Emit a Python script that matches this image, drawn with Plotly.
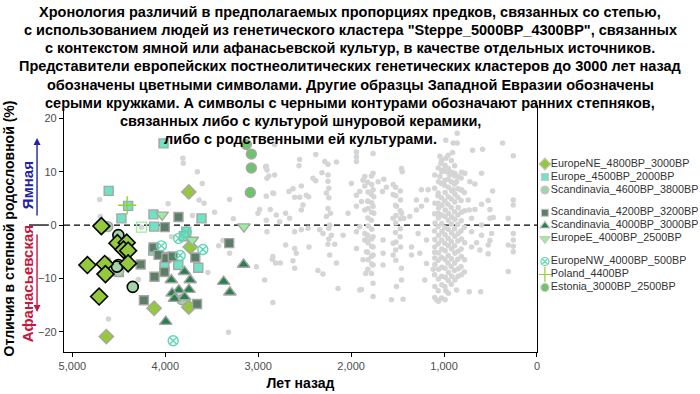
import plotly.graph_objects as go

# ---------------- tick labels ----------------
x_ticks = [5000, 4000, 3000, 2000, 1000, 0]
x_ticklabels = ["5,000", "4,000", "3,000", "2,000", "1,000", "0"]
y_ticks = [-20, -10, 0, 10, 20]
y_ticklabels = ["\u221220", "\u221210", "0", "10", "20"]

# ---------------- coloured series ----------------
ne_x = [4634, 4120, 3747, 3732, 3747]
ne_y = [-20.9, -15.6, 6.2, -4.1, -15.4]
ne_cw_x = [4688, 4515, 4415, 4450, 4400, 4838, 4652, 4644, 4400, 4712]
ne_cw_y = [-0.2, -3.4, -3.3, -4.6, -4.8, -7.5, -7.3, -9.2, -7.2, -13.4]

eu_x = [4019, 4609, 4472, 4400, 4127, 4120, 3610, 3775, 3800, 4130, 3998, 3860, 3645, 4009, 4500]
eu_y = [15.3, 6.4, 1.25, 3.6, 2.0, -0.3, 1.25, -1.25, -2.1, -4.8, -6.0, -7.5, -8.0, -7.8, -8.8]

sc46_x = [4619, 4637, 4501, 3822]
sc46_y = [-0.3, -6.9, -8.7, -14.0]
sc46_cw_x = [4505, 4505, 4520, 4350]
sc46_cw_y = [-1.9, -7.5, -7.8, -11.6]

sc42_x = [3858, 4005, 4127, 4072, 3990, 3919, 3677, 3312, 4265, 4009, 4116, 4230, 3658]
sc42_y = [1.5, -0.4, -4.2, -5.6, -6.2, -5.9, -6.1, -3.4, -7.4, -8.8, -9.7, -14.1, -14.8]

sc40_x = [3793, 3935, 3732, 3854, 3926, 3745, 3901, 3793, 3995, 3157, 3372, 3305]
sc40_y = [-8.75, -10.3, -10.3, -12.2, -12.8, -12.1, -13.8, -13.5, -18.1, -7.4, -10.6, -12.6]

ee_x = [4034, 3710, 3154]
ee_y = [1.9, -2.8, -0.3]

nw_x = [4042, 3856, 3775, 3840, 3596, 3915]
nw_y = [-3.9, -2.5, -1.3, -5.7, -4.6, -21.7]

pl_x = [4410]
pl_y = [3.7]

est_x = [3128, 3074, 3074, 3085]
est_y = [15.1, 13.3, 10.7, 6.1]

open_sq_x = [4256]
open_sq_y = [-0.4]

# ---------------- grey (other West Eurasian) samples ----------------
gray_a = [(4706, 4.8), (4700, 1.6), (4290, -10.2), (4612, -17.6), (3970, 4.0), (3811, 12.5),
          (3806, 11.6), (3655, 10.0), (3602, 7.8), (3636, 4.7), (3583, 4.1), (3470, 2.4),
          (3707, 1.8), (3308, 4.8), (3268, 1.2), (3425, -3.9), (3380, -2.9), (3308, -5.3),
          (3542, -8.9), (3020, -7.8), (3320, -20.1), (2985, 2.9), (2913, 11.0), (2885, 9.2),
          (2842, 6.0), (2870, 2.9), (2913, 5.4), (2842, -5.9), (2842, -14.5), (2931, -10.3),
          (3003, 2.2), (3933, -2.2), (4256, -0.4)]
gray_b = [(2823, 15.1), (2920, 10.9), (2906, 10.3), (2906, 8.75), (2823, 9.4), (2554, 12.3),
          (2561, 11.1), (2381, 13.2), (2284, 11.9), (2249, 11.4), (2158, 11.8), (2314, 9.8),
          (2249, 9.4), (2410, 8.75), (2381, 8.3), (2249, 8.2), (1943, 13.7), (1943, 12.8),
          (1943, 11.9), (1997, 7.8), (2834, 5.9), (2669, 6.3), (2626, 6.8), (2608, 5.2),
          (2554, 5.2), (2536, 7.3), (2482, 5.6), (2457, 5.3), (2518, 3.75), (2536, 2.8),
          (2266, 6.0), (2249, 3.1), (2223, 2.2), (2266, 1.6), (2033, 2.2), (1943, 5.6),
          (1907, 6.3), (1889, 4.4), (1943, 3.5), (1872, 8.4), (2805, 1.9), (2705, 2.2),
          (2662, 1.25), (2769, 0.6), (2913, 0.9), (2906, -1.25), (2608, -1.25), (2536, -0.9),
          (2464, -0.6), (2338, -0.9), (2303, -1.6), (2231, 0.0), (2212, -1.9), (2087, -1.9),
          (1943, -1.25), (1907, -0.3), (2249, -3.6), (2177, -3.6), (2705, -3.75), (2608, -4.4),
          (2590, -5.3), (2454, -4.1), (2231, -5.6), (2158, -7.1), (2848, -6.4), (2812, -7.1),
          (2762, -7.1), (2626, -6.7), (2608, -8.1), (2357, -8.5), (2303, -9.2), (2141, -11.9),
          (1889, -12.1), (1853, -2.8), (1943, -4.4), (1872, -6.5), (2240, 6.9), (2240, 5.1),
          (2240, -0.6), (2240, -2.6)]
gray_c = [(1764, 13.4), (1458, 10.6), (1450, 10.0), (1853, 9.1), (1764, 9.7), (1649, 8.6),
          (1710, 8.1), (1764, 6.6), (1853, 7.3), (1548, 7.6), (1620, 7.1), (1663, 6.3),
          (1548, 5.7), (1756, 5.3), (1818, 4.4), (1764, 3.5), (1756, 2.2), (1853, 2.8),
          (1512, 3.5), (1458, 2.2), (1433, 1.25), (1548, 1.25), (1369, 1.6), (1297, 2.8),
          (1297, 4.7), (1243, 3.5), (1189, 4.7), (1243, 6.6), (1171, 6.6), (1045, 12.9),
          (1034, 11.6), (1009, 10.3), (1045, 9.1), (1027, 7.8), (1063, 6.0), (1063, 4.1),
          (1063, 2.2), (1853, -1.6), (1836, -2.8), (1764, -2.2), (1764, -4.1), (1836, -5.0),
          (1764, -5.6), (1656, -2.8), (1656, -5.3), (1548, -3.4), (1548, -5.6), (1656, -7.5),
          (1764, -7.5), (1843, -9.1), (1458, -8.1), (1458, -10.3), (1512, -11.5), (1764, -10.9),
          (1907, -12.2), (1764, -13.4), (1566, -14.0), (1441, -13.9), (1350, -4.1), (1350, -5.6),
          (1261, -5.3), (1279, -1.6), (1189, -2.8), (1189, -7.2), (1207, -10.3), (1117, -8.3),
          (1099, -11.5), (1081, -14.0), (1099, -4.1), (1099, -6.2)]
gray_d = [(859, 18.9), (859, 17.2), (981, 15.9), (902, 15.4), (859, 15.4), (908, 13.6),
          (693, 14.0), (585, 14.2), (370, 15.4), (255, 13.0), (981, 12.5), (991, 11.2),
          (973, 10.0), (991, 8.4), (938, 9.4), (884, 9.7), (811, 9.9), (776, 9.7), (865, 8.1),
          (722, 8.1), (668, 7.7), (596, 9.7), (477, 6.4), (902, 6.6), (811, 6.6), (740, 4.7),
          (729, 2.8), (668, 2.9), (596, 3.9), (525, 4.6), (506, 2.9), (506, 1.25), (471, 1.4),
          (704, 1.25), (255, 4.7), (255, 3.75), (309, 1.25), (596, 0.0), (596, -1.9),
          (704, -1.25), (704, -4.1), (650, -3.3), (614, -4.7), (506, -2.9), (525, -3.75),
          (525, -5.4), (488, -1.6), (309, -3.75), (255, -1.6), (255, -2.8), (255, -5.0),
          (309, -8.7), (729, -12.5), (606, -12.5), (865, -12.2), (981, -12.3), (255, -4.0)]
# dense block around 1,000 BP
gray_e = [(1100, 9.4), (1102, 6.9), (1098, 4.1), (1101, 2.1), (1097, 0.4), (1103, -1.1),
          (1099, -2.7), (1101, -5.1), (1098, -7.4), (1102, -9.3), (1100, -13.6),
          (1062, 10.7), (1060, 8.1), (1064, 5.5), (1058, 3.2), (1061, 1.3), (1063, -0.3),
          (1059, -1.9), (1062, -3.5), (1060, -5.2), (1064, -6.6), (1058, -8.3), (1061, -10.1),
          (1063, -12.3), (1060, -14.3),
          (1026, 12.2), (1024, 10.0), (1028, 5.1), (1023, 3.7), (1027, 1.9), (1025, 0.3),
          (1022, -1.2), (1026, -2.8), (1024, -4.5), (1028, -6.1), (1023, -7.9), (1026, -9.6),
          (1024, -11.2), (1027, -13.7),
          (992, 7.4), (989, 6.1), (991, 4.5), (988, 2.8), (990, 1.6), (993, -0.5), (989, -1.8),
          (991, -3.4), (988, -4.8), (992, -6.4), (990, -8.1), (987, -9.8), (991, -11.5),
          (989, -14.0),
          (956, 13.1), (954, 10.6), (957, 8.6), (953, 7.1), (955, 5.3), (958, 3.9), (952, 2.2),
          (956, 0.9), (954, -0.8), (957, -2.5), (953, -3.9), (955, -5.7), (958, -7.1),
          (952, -8.9), (956, -10.4), (954, -12.8),
          (921, 12.1), (919, 9.9), (922, 8.1), (918, 6.4), (920, 4.9), (923, 3.3), (917, 1.5),
          (921, 0.2), (919, -1.5), (922, -3.1), (918, -4.5), (920, -6.3), (923, -7.8),
          (917, -9.6), (921, -11.1),
          (886, 11.1), (884, 9.2), (887, 7.7), (883, 5.8), (885, 4.3), (888, 2.5), (882, 1.1),
          (886, -0.7), (884, -2.1), (887, -3.9), (883, -5.3), (885, -7.1), (888, -8.5),
          (882, -10.3),
          (851, 9.1), (849, 6.8), (852, 5.2), (848, 3.3), (850, 1.9), (853, 0.1), (847, -1.6),
          (851, -3.0), (849, -4.9), (852, -6.4), (848, -8.2), (850, -9.6),
          (816, 8.8), (814, 6.5), (817, 4.6), (813, 2.4), (815, 0.8), (818, -1.1), (812, -2.6),
          (816, -4.5), (814, -5.9), (817, -7.8), (813, -9.3),
          (781, 6.1), (779, 2.7), (782, -0.4), (778, -3.3), (780, -6.5), (781, -8.8)]
# columns near 1,800 and 1,500 BP
gray_f = [(1821, 8.0), (1818, 6.2), (1822, 4.5), (1819, 3.1), (1820, 1.3), (1817, -0.2),
          (1821, -1.9), (1819, -3.3), (1822, -5.1), (1818, -6.5), (1820, -8.3),
          (1781, 9.2), (1779, 7.6), (1782, 5.7), (1778, 4.2), (1780, 2.4), (1783, 0.9),
          (1777, -0.8), (1781, -2.6), (1779, -4.0), (1782, -5.9), (1778, -7.3), (1780, -9.1),
          (1521, 7.1), (1519, 5.5), (1522, 3.7), (1518, 1.8), (1520, 0.4), (1523, -1.4),
          (1517, -3.2), (1521, -4.7), (1519, -6.6),
          (1471, 6.4), (1469, 4.7), (1472, 2.7), (1468, 1.2), (1470, -0.7), (1473, -2.2),
          (1467, -4.1)]

gray_pts = gray_a + gray_b + gray_c + gray_d + gray_e + gray_f
gray_x = [p[0] for p in gray_pts]
gray_y = [p[1] for p in gray_pts]

# legend entries (order and grouping as in the reference)
legend_names = ["EuropeNE_4800BP_3000BP", "Europe_4500BP_2000BP", "Scandinavia_4600BP_3800BP",
                "Scandinavia_4200BP_3200BP", "Scandinavia_4000BP_3000BP", "EuropeE_4000BP_2500BP",
                "EuropeNW_4000BP_500BP", "Poland_4400BP", "Estonia_3000BP_2500BP"]

# ---------------- styling ----------------
OUT = "#a6a6a6"
styles = [
    dict(symbol="diamond", color="#95c93d", line=OUT),
    dict(symbol="square", color="#6fe3c3", line=OUT),
    dict(symbol="circle", color="#a3d3a9", line=OUT),
    dict(symbol="square", color="#5e7d66", line=OUT),
    dict(symbol="triangle-up", color="#2a7f4f", line=OUT),
    dict(symbol="triangle-down", color="#98f098", line=OUT),
    dict(symbol="circle-x-open", color="#5ed6b4", line="#5ed6b4"),
    dict(symbol="cross-thin-open", color="#9acd32", line="#9acd32"),
    dict(symbol="circle", color="#6cc46c", line=OUT),
]
plot_sizes = [11, 9, 10, 9, 11, 11, 10, 13, 10]
legend_sizes = [9, 7, 8, 7, 9, 9, 8, 11, 8]

series = [(ne_x, ne_y), (eu_x, eu_y), (sc46_x, sc46_y), (sc42_x, sc42_y), (sc40_x, sc40_y),
          (ee_x, ee_y), (nw_x, nw_y), (pl_x, pl_y), (est_x, est_y)]

fig = go.Figure()

fig.add_trace(go.Scatter(x=gray_x, y=gray_y, mode="markers", showlegend=False,
                         marker=dict(color="#d5d5d5", size=5.5, line=dict(width=0)),
                         hoverinfo="skip"))

for (sx, sy), name, st, sz in zip(series, legend_names, styles, plot_sizes):
    fig.add_trace(go.Scatter(
        x=sx, y=sy, mode="markers", name=name, showlegend=False,
        marker=dict(symbol=st["symbol"], color=st["color"], size=sz,
                    line=dict(color=st["line"], width=1.4))))

fig.add_trace(go.Scatter(x=open_sq_x, y=open_sq_y, mode="markers", showlegend=False,
                         marker=dict(symbol="square-open", color="#98f098", size=10,
                                     line=dict(color="#98f098", width=1.4))))
# early steppe (Corded Ware related) individuals: black outlines
fig.add_trace(go.Scatter(x=sc46_cw_x, y=sc46_cw_y, mode="markers", showlegend=False,
                         name=legend_names[2],
                         marker=dict(symbol="circle", color=styles[2]["color"], size=11,
                                     line=dict(color="black", width=1.6))))
fig.add_trace(go.Scatter(x=ne_cw_x, y=ne_cw_y, mode="markers", showlegend=False,
                         name=legend_names[0],
                         marker=dict(symbol="diamond", color=styles[0]["color"], size=13,
                                     line=dict(color="black", width=1.6))))

# ---------------- key (legend) on its own small axes ----------------
group_of = [0, 0, 0, 1, 1, 1, 2, 2, 2]
slot = [i + 0.75 * g for i, g in enumerate(group_of)]
for name, st, sz, s in zip(legend_names, styles, legend_sizes, slot):
    fig.add_trace(go.Scatter(
        x=[0.038], y=[s], xaxis="x2", yaxis="y2", mode="markers", showlegend=False,
        hoverinfo="skip",
        marker=dict(symbol=st["symbol"], color=st["color"], size=sz,
                    line=dict(color=st["line"] if st["line"] != OUT else "#c8c8c8",
                              width=1.2))))
fig.add_trace(go.Scatter(
    x=[0.075] * len(legend_names), y=slot, xaxis="x2", yaxis="y2", mode="text",
    text=legend_names, textposition="middle right", showlegend=False, hoverinfo="skip",
    textfont=dict(family="Liberation Sans, Arial, sans-serif", size=10.8, color="#333333")))

# ---------------- layout ----------------
title_lines = [
    "Хронология различий в предполагаемых пропорциях предков, связанных со степью,",
    "с использованием людей из генетического кластера \"Steppe_5000BP_4300BP\", связанных",
    "с контекстом ямной или афанасьевской культур, в качестве отдельных источников.",
    "Представители европейских постнеолитических генетических кластеров до 3000 лет назад",
    "обозначены цветными символами. Другие образцы Западной Евразии обозначены",
    "серыми кружками. А символы с черными контурами обозначают ранних степняков,",
]
sub_lines = [
    "связанных либо с культурой шнуровой керамики,",
    "либо с родственными ей культурами.",
]

FONT = "Liberation Sans, Arial, sans-serif"
axis_common = dict(showline=True, linecolor="black", linewidth=1.2, ticks="outside",
                   ticklen=4, tickcolor="black", tickwidth=1, showgrid=False,
                   zeroline=False, automargin=False,
                   tickfont=dict(family=FONT, size=11, color="#4d4d4d"))

PLOT_H = 247.0  # plot area height in px (105..352)

fig.update_layout(
    width=700, height=394,
    margin=dict(l=64, r=2, t=105, b=42),
    plot_bgcolor="white", paper_bgcolor="white",
    font=dict(family=FONT),
    showlegend=False,
    xaxis=dict(domain=[0, 0.746], range=[5090, 0], tickvals=x_ticks, ticktext=x_ticklabels,
               title=dict(text="Лет назад", standoff=6,
                          font=dict(size=14, color="black", weight="bold", family=FONT)),
               **axis_common),
    yaxis=dict(range=[-23.8, 22.5], tickvals=y_ticks, ticktext=y_ticklabels, mirror=True,
               title=dict(text="Отличия в степной родословной (%)", standoff=20,
                          font=dict(size=14, color="black", weight="bold", family=FONT)),
               **axis_common),
    xaxis2=dict(domain=[0.749, 1.0], range=[0, 1], visible=False, anchor="y2"),
    yaxis2=dict(domain=[0, 1], range=[14.46, -4.54], visible=False, anchor="x2"),
)

# title lines, spaced like the reference
for i, line in enumerate(title_lines):
    y_px = 11.5 + 18.25 * i
    fig.add_annotation(text=line, xref="paper", x=(350 - 64) / 634.0, xanchor="center",
                       yref="paper", y=(352 - y_px) / PLOT_H, yanchor="middle",
                       showarrow=False,
                       font=dict(family=FONT, size=14.5, color="black", weight="bold"))
for i, line in enumerate(sub_lines):
    y_px = 11.5 + 18.25 * (i + len(title_lines))
    fig.add_annotation(text=line, xref="x domain", x=0.5, xanchor="center",
                       yref="paper", y=(352 - y_px) / PLOT_H, yanchor="middle",
                       showarrow=False,
                       font=dict(family=FONT, size=14.5, color="black", weight="bold"))

# dashed reference line at zero
fig.add_shape(type="line", xref="x domain", x0=0, x1=1, yref="y", y0=0, y1=0,
              line=dict(color="black", width=1.2, dash="6px,4px"), layer="below")
# separator next to the zero tick
fig.add_shape(type="line", xref="x domain", x0=-0.074, x1=-0.032, yref="y", y0=0, y1=0,
              line=dict(color="black", width=1.3))

# Yamnaya / Afanasievo direction arrows
fig.add_annotation(xref="x domain", x=-0.057, xanchor="center", yref="y", y=16.3, ax=0,
                   ay=79, text="", showarrow=True, arrowhead=2, arrowsize=1, arrowwidth=1.4,
                   arrowcolor="#2222a8")
fig.add_annotation(xref="x domain", x=-0.057, xanchor="center", yref="y", y=-16.3, ax=0,
                   ay=-79, text="", showarrow=True, arrowhead=2, arrowsize=1, arrowwidth=1.4,
                   arrowcolor="#c8163f")
fig.add_annotation(xref="x domain", x=-0.078, xanchor="center", yref="y", y=7.5,
                   yanchor="middle", text="Ямная", textangle=-90, showarrow=False,
                   font=dict(size=15, color="#2222a8", weight="bold", family=FONT))
fig.add_annotation(xref="x domain", x=-0.078, xanchor="center", yref="y", y=-11.1,
                   yanchor="middle", text="Афанасьевская", textangle=-90, showarrow=False,
                   font=dict(size=15, color="#c8163f", weight="bold", family=FONT))

fig.write_html("out.html",
               config={"displayModeBar": False},
               post_script="document.body.style.margin='0px';"
                           "document.body.style.overflow='hidden';")
